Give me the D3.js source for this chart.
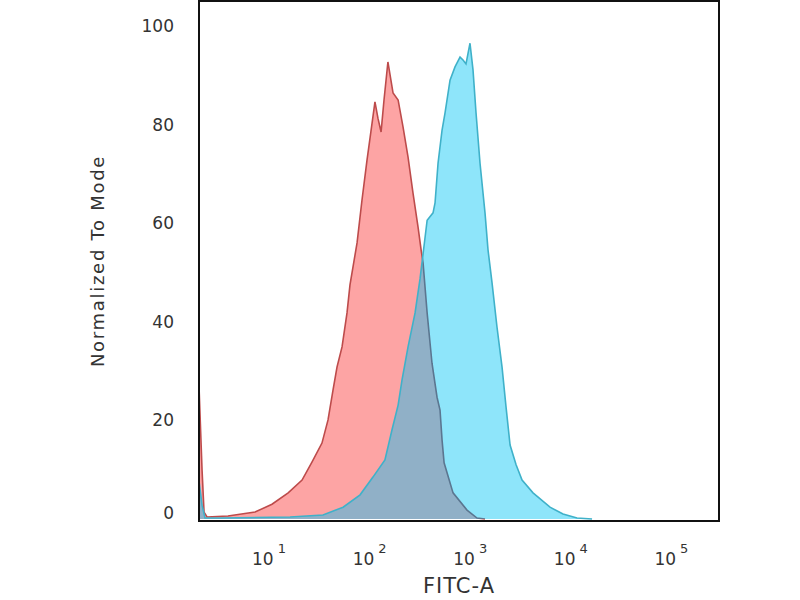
<!DOCTYPE html>
<html>
<head>
<meta charset="utf-8">
<script src="https://cdn.jsdelivr.net/npm/d3@7"></script>
<style>
  body { margin: 0; background: #fff; }
  text { font-family: "DejaVu Sans", sans-serif; fill: #333; }
</style>
</head>
<body>
<div id="container"></div>
<script>
// isotype control (red) and stained sample (blue), FITC-A histogram
const redFitc = [2.02, 2.16, 2.26, 2.42, 3.91, 7.26, 10.7, 15.5, 21.3, 26.8, 33.6, 38.6, 43.3, 47.4, 53.2, 59.6, 63.8, 75.0, 84.0, 94.2, 101, 113, 121, 130, 139, 152, 171, 192, 215, 241, 270, 303, 325, 340, 373, 417, 468, 501, 525, 550, 675, 929, 1169, 1403];
const redPct = [26.2, 9.9, 1.4, 0.4, 0.6, 1.4, 3.0, 5.3, 7.9, 11.6, 15.4, 20.1, 26.2, 30.8, 34.9, 41.8, 47.5, 56.0, 64.7, 72.8, 77.3, 84.6, 81.3, 78.5, 85.0, 92.7, 86.4, 85.0, 79.5, 73.4, 66.1, 59.2, 54.6, 51.9, 41.8, 31.6, 24.7, 22.1, 16.0, 11.4, 5.3, 1.8, 0.2, 0];

const blueFitc = [2.02, 2.16, 2.31, 3.26, 16.2, 34.4, 54.5, 80.4, 108, 142, 167, 192, 210, 241, 283, 317, 340, 373, 427, 447, 479, 525, 562, 630, 706, 792, 848, 908, 995, 1066, 1142, 1251, 1403, 1503, 1648, 1847, 2072, 2271, 2490, 2857, 3276, 4210, 6210, 8360, 11530, 16260];
const bluePct = [7.5, 2.8, 0.2, 0.2, 0.4, 0.8, 2.4, 4.9, 8.5, 12.0, 18.1, 23.1, 28.2, 34.9, 41.8, 48.7, 53.8, 60.6, 62.1, 64.1, 72.2, 78.9, 82.4, 89.0, 91.7, 93.7, 93.1, 92.3, 96.5, 91.1, 82.4, 72.2, 62.1, 54.6, 47.9, 38.9, 30.8, 22.7, 15.0, 11.0, 7.9, 5.3, 2.4, 1.0, 0.2, 0];

const xTickExp = [1, 2, 3, 4, 5];
const yTicks = [0, 20, 40, 60, 80, 100];

const w = 800;
const h = 600;
const boxL = 199, boxR = 719, boxT = 1, boxB = 521;

const svg = d3.select('#container')
  .append('svg')
  .attr('width', w)
  .attr('height', h)
  .attr('viewBox', [0, 0, w, h]);

const x = d3.scaleLog()
  .domain([Math.pow(10, 0.304), Math.pow(10, 5.473)])
  .range([boxL, boxR]);

const y = d3.scaleLinear()
  .domain([0, 100])
  .range([519, 26]);

const red = d3.zip(redFitc, redPct);
const blue = d3.zip(blueFitc, bluePct);

const area = d3.area()
  .x(d => x(d[0]))
  .y0(y(0))
  .y1(d => y(d[1]));

const line = d3.line()
  .x(d => x(d[0]))
  .y(d => y(d[1]));

const defs = svg.append('defs');
defs.append('clipPath')
  .attr('id', 'plotClip')
  .append('rect')
  .attr('x', boxL)
  .attr('y', boxT)
  .attr('width', boxR - boxL)
  .attr('height', boxB - boxT);
defs.append('clipPath')
  .attr('id', 'blueClip')
  .append('path')
  .attr('d', area(blue));

const plot = svg.append('g').attr('clip-path', 'url(#plotClip)');

plot.append('path')
  .attr('d', area(red))
  .attr('fill', '#fda4a4');

plot.append('path')
  .attr('d', line(red))
  .attr('fill', 'none')
  .attr('stroke', '#bd4b4b')
  .attr('stroke-width', 1.6);

plot.append('path')
  .attr('d', area(blue))
  .attr('fill', '#8ee5fa');

// overlap of both histograms
const overlap = plot.append('g').attr('clip-path', 'url(#blueClip)');
overlap.append('path')
  .attr('d', area(red))
  .attr('fill', '#90b0c7');
overlap.append('path')
  .attr('d', line(red))
  .attr('fill', 'none')
  .attr('stroke', '#5b7690')
  .attr('stroke-width', 1.6);

plot.append('path')
  .attr('d', line(blue))
  .attr('fill', 'none')
  .attr('stroke', '#3fb1c9')
  .attr('stroke-width', 1.6);

// frame
svg.append('rect')
  .attr('x', boxL)
  .attr('y', boxT)
  .attr('width', boxR - boxL)
  .attr('height', boxB - boxT)
  .attr('fill', 'none')
  .attr('stroke', '#111')
  .attr('stroke-width', 2);

// y axis
const yAxis = svg.append('g')
  .attr('transform', 'translate(' + boxL + ',0)')
  .call(d3.axisLeft(y).tickValues(yTicks).tickSize(0).tickPadding(25));
yAxis.select('.domain').remove();
yAxis.selectAll('text')
  .style('font-size', '17px')
  .attr('fill', '#333')
  .attr('dy', d => d === 0 ? '-0.05em' : '0.32em');

// x axis with 10^n labels
const xLabels = svg.append('g');
xTickExp.forEach(e => {
  const t = xLabels.append('text')
    .attr('x', x(Math.pow(10, e)))
    .attr('y', 565)
    .attr('text-anchor', 'middle')
    .style('font-size', '17px');
  t.append('tspan').text('10');
  t.append('tspan')
    .attr('dx', 4)
    .attr('dy', -12)
    .style('font-size', '13px')
    .text(e);
});

svg.append('text')
  .attr('x', (boxL + boxR) / 2)
  .attr('y', 593)
  .attr('text-anchor', 'middle')
  .style('font-size', '21px')
  .style('letter-spacing', '1px')
  .text('FITC-A');

svg.append('text')
  .attr('transform', 'rotate(-90)')
  .attr('x', -261)
  .attr('y', 104)
  .attr('text-anchor', 'middle')
  .style('font-size', '18px')
  .style('letter-spacing', '1.7px')
  .text('Normalized To Mode');
</script>
</body>
</html>
